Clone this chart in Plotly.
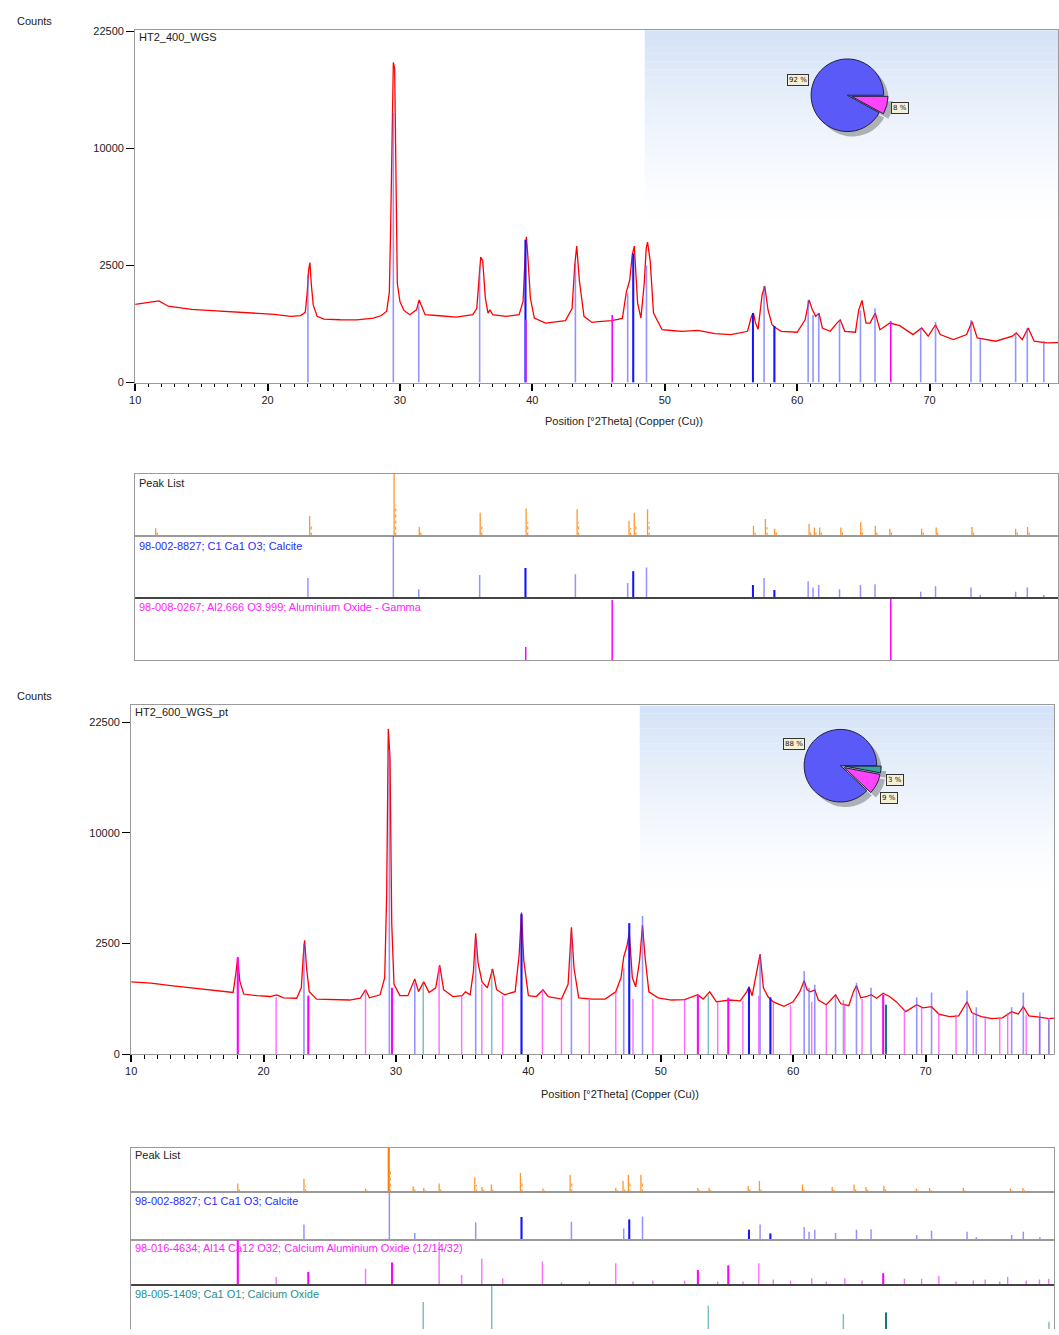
import numpy as np
import plotly.graph_objects as go

W, H = 1059, 1335
FONT = "Liberation Sans"


def fx(px):
    return px / W


def fy(py):
    return 1 - py / H


# ---------------- DATA ----------------
x_range = [10, 79.7]
ytick_counts = [0, 2500, 10000, 22500]

# Pattern 1: HT2_400_WGS
top_tt = [10.0, 11.0, 11.5, 11.8, 12.5, 13.5, 14.25, 15.5, 16.75, 18.0, 19.25, 20.5, 21.75, 22.5,
          22.85, 23.0, 23.1, 23.2, 23.3, 23.45, 23.75, 24.25, 25.5, 26.75, 28.0, 28.6, 29.0, 29.2,
          29.3, 29.4, 29.5, 29.6, 29.7, 29.8, 30.0, 30.3, 30.75, 31.25, 31.45, 31.6, 31.9, 33.0,
          34.25, 35.5, 35.8, 35.95, 36.1, 36.25, 36.45, 36.65, 36.8, 37.0, 38.0, 39.0, 39.3, 39.45,
          39.55, 39.65, 39.85, 40.15, 41.0, 42.5, 43.0, 43.2, 43.35, 43.55, 43.9, 44.5, 45.0, 46.0,
          46.8, 47.1, 47.35, 47.55, 47.7, 47.95, 48.2, 48.45, 48.6, 48.7, 48.9, 49.15, 49.8, 50.5,
          51.3, 52.5, 53.8, 55.0, 56.25, 56.55, 56.7, 56.85, 57.05, 57.35, 57.55, 57.8, 58.1, 58.4,
          58.8, 60.0, 60.6, 60.9, 61.15, 61.4, 61.65, 61.9, 62.5, 63.0, 63.25, 63.6, 64.4, 64.65,
          64.9, 65.2, 65.5, 65.9, 66.25, 67.0, 67.75, 68.75, 69.4, 69.9, 70.45, 70.8, 71.8, 72.8,
          73.2, 73.6, 75.0, 76.25, 76.55, 77.0, 77.45, 77.9, 78.8, 79.7]
top_counts = [1115, 1160, 1200, 1215, 1064, 1010, 980, 950, 920, 900, 880, 850, 800, 820,
              900, 1500, 2300, 2630, 1800, 1100, 800, 735, 720, 718, 758, 820, 930, 1500,
              4500, 13000, 18700, 18000, 6500, 1800, 1200, 950, 840, 965, 1245, 1100, 840, 815,
              780, 840, 1000, 1800, 2880, 2700, 1300, 880, 965, 840, 800, 840, 1200, 2880,
              3880, 3000, 1300, 758, 646, 700, 1000, 2500, 3400, 1900, 800, 660, 680, 700,
              750, 1500, 1900, 3000, 3400, 1150, 758, 1800, 3300, 3600, 2700, 880, 510, 495,
              480, 498, 437, 420, 480, 800, 880, 650, 520, 1400, 1700, 965, 610, 543,
              480, 462, 718, 1245, 965, 800, 880, 543, 480, 646, 718, 480, 462, 965,
              1230, 646, 646, 880, 510, 646, 590, 420, 543, 392, 610, 420, 337, 420,
              680, 364, 312, 392, 449, 337, 543, 312, 287, 290]

# Pattern 2: HT2_600_WGS_pt
bot_tt = [10.0, 11.5, 13.0, 15.0, 17.0, 17.7, 17.9, 18.05, 18.2, 18.5, 19.5, 20.5, 21.0, 21.5,
          22.5, 22.85, 23.0, 23.1, 23.25, 23.45, 24.0, 25.5, 26.5, 27.3, 27.7, 28.0, 28.8, 29.15,
          29.3, 29.42, 29.55, 29.68, 29.85, 30.3, 30.9, 31.42, 31.7, 32.1, 32.5, 33.0, 33.3, 33.6,
          34.3, 35.0, 35.25, 35.6, 35.85, 36.02, 36.2, 36.5, 36.9, 37.3, 37.6, 38.2, 39.0, 39.3,
          39.48, 39.65, 40.0, 40.6, 41.1, 41.5, 42.5, 43.0, 43.25, 43.45, 43.8, 44.8, 45.8, 46.6,
          47.0, 47.2, 47.45, 47.62, 47.85, 48.1, 48.4, 48.62, 48.8, 49.1, 49.8, 50.8, 51.8, 52.8,
          53.2, 53.7, 54.2, 55.2, 56.0, 56.5, 56.66, 56.9, 57.25, 57.5, 57.75, 58.1, 58.5, 59.3,
          60.0, 60.5, 60.83, 61.05, 61.3, 61.63, 61.9, 62.5, 63.2, 63.6, 64.2, 64.55, 64.78, 65.1,
          65.5, 65.88, 66.3, 66.8, 67.3, 67.8, 68.5, 69.33, 69.8, 70.45, 71.0, 71.8, 72.5, 73.13,
          73.5, 74.2, 75.0, 75.8, 76.5, 77.0, 77.38, 77.8, 78.6, 79.3, 79.7]
bot_counts = [1069, 1030, 960, 880, 800, 780, 1300, 1926, 1100, 740, 700, 680, 720, 650,
              640, 900, 2000, 2652, 1500, 800, 620, 600, 600, 640, 847, 650, 720, 1200,
              5300, 21580, 17810, 3500, 1000, 700, 700, 1158, 800, 1069, 780, 900, 1624, 850,
              680, 700, 796, 720, 1400, 2985, 1700, 1069, 900, 1483, 850, 722, 800, 2000,
              4101, 1800, 700, 680, 847, 675, 620, 1000, 3286, 1500, 650, 620, 620, 796,
              1200, 1926, 2400, 3034, 1200, 927, 1800, 3389, 2000, 796, 650, 600, 607, 722,
              620, 796, 560, 600, 580, 800, 927, 700, 1400, 2046, 900, 675, 560, 470,
              560, 800, 1100, 850, 796, 847, 600, 501, 722, 520, 480, 800, 960, 650,
              675, 722, 640, 760, 675, 560, 371, 501, 440, 462, 330, 290, 300, 563,
              350, 290, 260, 270, 371, 330, 462, 300, 280, 260, 265]

# Calcite 98-002-8827
calcite_pos = [23.05, 29.5, 31.42, 36.02, 39.48, 43.25, 47.2, 47.62, 48.62, 56.66, 57.5, 58.28,
               60.83, 61.2, 61.63, 63.2, 64.78, 65.88, 69.33, 70.45, 73.13, 73.83, 76.5, 77.38, 78.63]
calcite_rel = [32, 100, 14, 37, 48, 38, 24, 43, 49, 21, 32, 13, 27, 17, 21, 14, 21, 22, 10, 19,
               17, 5, 10, 17, 5]
calcite_double = [4, 7, 9, 11]
calcite_top_counts = [2100, 13300, 1064, 2460, 3720, 2585, 1454, 3035, 2500, 880, 1690, 583,
                      1240, 830, 880, 713, 957, 1010, 543, 668, 713, 364, 449, 543, 317]
calcite_bot_counts = [2500, 19000, 1043, 2700, 4004, 3000, 1500, 3500, 3900, 905, 1997, 659,
                      1414, 905, 987, 700, 1043, 905, 659, 777, 827, 451, 451, 777, 362]

# Aluminium oxide gamma 98-008-0267
alox_pos = [39.5, 46.03, 67.07]
alox_rel = [21, 97, 100]
alox_counts = [713, 830, 690]

# Calcium aluminium oxide 98-016-4634
may_pos = [18.05, 20.95, 23.38, 27.7, 29.7, 33.26, 34.96, 36.48, 38.06, 41.06, 42.5, 44.6, 46.6,
           47.9, 49.4, 51.8, 52.8, 54.3, 55.1, 56.2, 57.4, 58.5, 59.8, 61.4, 62.5, 63.9, 65.2,
           66.8, 68.4, 69.7, 71.0, 72.3, 73.6, 74.5, 75.6, 76.2, 77.6, 78.6, 79.3]
may_rel = [100, 18, 29, 36, 50, 95, 22, 58, 15, 52, 6, 8, 48, 8, 10, 10, 33, 8, 43, 8, 48, 12, 10,
           15, 8, 15, 10, 26, 14, 14, 20, 8, 10, 12, 8, 18, 10, 12, 14]
may_counts = [1900, 660, 700, 847, 900, 1600, 720, 1000, 700, 850, 620, 600, 800, 620, 620, 600,
              720, 560, 650, 580, 700, 560, 500, 560, 500, 520, 620, 720, 400, 440, 350, 320,
              350, 300, 270, 350, 320, 290, 270]
may_double = [0, 2, 4, 16, 18, 27]

# Calcium oxide 98-005-1409
cao_pos = [32.06, 37.23, 53.59, 63.79, 67.01, 79.32]
cao_rel = [63, 100, 55, 37, 40, 20]
cao_counts = [1069, 1483, 720, 600, 501, 240]
cao_double = [4]

# Peak lists
pk1_pos = [11.55, 23.18, 29.56, 31.46, 36.06, 39.53, 43.38, 47.3, 47.7, 48.7, 56.7, 57.6, 58.3,
           60.9, 61.3, 61.7, 63.3, 64.8, 65.9, 67.0, 69.4, 70.5, 73.2, 76.5, 77.4]
pk1_rel = [12, 32, 100, 14, 37, 44, 43, 24, 37, 43, 16, 27, 11, 19, 13, 13, 13, 22, 16, 11, 11,
           13, 14, 11, 14]
pk2_pos = [18.05, 23.05, 27.7, 29.45, 31.3, 32.1, 33.26, 35.95, 36.5, 37.2, 39.4, 41.1, 43.15,
           46.6, 47.15, 47.55, 48.5, 52.8, 53.65, 56.6, 57.45, 60.7, 62.95, 64.6, 65.5, 66.85,
           69.3, 70.3, 72.85, 76.4, 77.35]
pk2_rel = [20, 31, 9, 100, 14, 10, 20, 34, 12, 18, 44, 9, 40, 10, 26, 40, 40, 10, 10, 15, 26, 18,
           12, 18, 12, 15, 9, 10, 10, 9, 10]

pie1_labels = ["Calcite", "Aluminium Oxide - Gamma"]
pie1_values = [92, 8]
pie2_labels = ["Calcite", "Calcium Oxide", "Calcium Aluminium Oxide"]
pie2_values = [88, 3, 9]

titles = ["HT2_400_WGS", "HT2_600_WGS_pt"]
row_labels_1 = ["Peak List", "98-002-8827; C1 Ca1 O3; Calcite",
                "98-008-0267; Al2.666 O3.999; Aluminium Oxide - Gamma"]
row_labels_2 = ["Peak List", "98-002-8827; C1 Ca1 O3; Calcite",
                "98-016-4634; Al14 Ca12 O32; Calcium Aluminium Oxide (12/14/32)",
                "98-005-1409; Ca1 O1; Calcium Oxide"]
x_title = "Position [°2Theta] (Copper (Cu))"

# ---------------- STYLE ----------------
RED = "rgb(255,0,0)"
BLUE_L = "rgba(90,90,255,0.65)"
BLUE_D = "rgb(20,20,255)"
MAG_L = "rgba(255,60,255,0.75)"
MAG_D = "rgb(255,0,255)"
TEAL_L = "rgba(40,150,150,0.6)"
TEAL_D = "rgb(20,120,120)"
ORANGE = "rgb(255,150,50)"
ORANGE_D = "rgb(255,120,0)"
FRAME = "#9a9a9a"


def sticks(pos, vals, f=lambda v: v, idx=None):
    xs, ys = [], []
    for i, (p, v) in enumerate(zip(pos, vals)):
        if idx is not None and i not in idx:
            continue
        xs += [p, p, None]
        ys += [0, f(v), None]
    return xs, ys


def add_sticks(pos, vals, xa, ya, color, width, f=lambda v: v, idx=None, dash=None):
    xs, ys = sticks(pos, vals, f, idx)
    fig.add_trace(go.Scatter(x=xs, y=ys, mode="lines", xaxis=xa, yaxis=ya,
                             line=dict(color=color, width=width, dash=dash),
                             hoverinfo="skip", showlegend=False))


sq = np.sqrt
fig = go.Figure()

# ---- main plot 1 ----
fig.add_trace(go.Scatter(x=top_tt, y=sq(top_counts), mode="lines", xaxis="x", yaxis="y",
                         line=dict(color=RED, width=1.3), showlegend=False))
add_sticks(calcite_pos, calcite_top_counts, "x", "y", BLUE_L, 1.6, sq)
add_sticks(calcite_pos, calcite_top_counts, "x", "y", BLUE_D, 2, sq, idx=calcite_double)
add_sticks(alox_pos, alox_counts, "x", "y", MAG_D, 1.6, sq)

# ---- stick rows 1 ----
add_sticks(pk1_pos, pk1_rel, "x2", "y2", ORANGE, 1.3)
add_sticks([p + 0.12 for p in pk1_pos], [r * 0.5 for r in pk1_rel], "x2", "y2", ORANGE, 1.2, dash="dot")
add_sticks(calcite_pos, calcite_rel, "x3", "y3", BLUE_L, 1.5)
add_sticks(calcite_pos, calcite_rel, "x3", "y3", BLUE_D, 2, idx=calcite_double)
add_sticks(alox_pos, alox_rel, "x4", "y4", MAG_D, 1.5)

# ---- main plot 2 ----
fig.add_trace(go.Scatter(x=bot_tt, y=sq(bot_counts), mode="lines", xaxis="x5", yaxis="y5",
                         line=dict(color=RED, width=1.3), showlegend=False))
add_sticks(may_pos, may_counts, "x5", "y5", MAG_L, 1.4, sq)
add_sticks(may_pos, may_counts, "x5", "y5", MAG_D, 2, sq, idx=may_double)
add_sticks(calcite_pos, calcite_bot_counts, "x5", "y5", BLUE_L, 1.6, sq)
add_sticks(calcite_pos, calcite_bot_counts, "x5", "y5", BLUE_D, 2, sq, idx=calcite_double)
add_sticks(cao_pos, cao_counts, "x5", "y5", TEAL_L, 1.5, sq)
add_sticks(cao_pos, cao_counts, "x5", "y5", TEAL_D, 2, sq, idx=cao_double)

# ---- stick rows 2 ----
add_sticks(pk2_pos, pk2_rel, "x6", "y6", ORANGE, 1.3)
add_sticks(pk2_pos, pk2_rel, "x6", "y6", ORANGE_D, 2, idx=[3])
add_sticks([p + 0.12 for p in pk2_pos], [r * 0.5 for r in pk2_rel], "x6", "y6", ORANGE, 1.2, dash="dot")
add_sticks(calcite_pos, calcite_rel, "x7", "y7", BLUE_L, 1.5)
add_sticks(calcite_pos, calcite_rel, "x7", "y7", BLUE_D, 2, idx=calcite_double)
add_sticks(may_pos, may_rel, "x8", "y8", MAG_L, 1.4)
add_sticks(may_pos, may_rel, "x8", "y8", MAG_D, 2, idx=may_double)
add_sticks(cao_pos, cao_rel, "x9", "y9", TEAL_L, 1.5)
add_sticks(cao_pos, cao_rel, "x9", "y9", TEAL_D, 2, idx=cao_double)

# ---- pies ----
def add_pie(values, labels, colors, dom_px, pulls):
    x0, x1, y0, y1 = dom_px
    fig.add_trace(go.Pie(values=values, labels=labels, sort=False, direction="clockwise",
                         rotation=90, textinfo="none", hoverinfo="skip", showlegend=False,
                         marker=dict(colors=["rgba(120,120,120,0.55)"] * len(values),
                                     line=dict(width=0)),
                         pull=pulls,
                         domain=dict(x=[fx(x0 + 5), fx(x1 + 5)], y=[fy(y1 + 5), fy(y0 + 5)])))
    fig.add_trace(go.Pie(values=values, labels=labels, sort=False, direction="clockwise",
                         rotation=90, textinfo="none", hoverinfo="skip", showlegend=False,
                         marker=dict(colors=colors, line=dict(color="#202040", width=1)),
                         pull=pulls,
                         domain=dict(x=[fx(x0), fx(x1)], y=[fy(y1), fy(y0)])))


# slices ordered starting at 3 o'clock going clockwise: small slices first
add_pie(pie1_values[::-1], pie1_labels[::-1], ["#ff44ff", "#5a5af8"], (806, 888, 50, 132), [0.12, 0])
add_pie(pie2_values[1:] + pie2_values[:1], pie2_labels[1:] + pie2_labels[:1],
        ["#3aa39c", "#ff44ff", "#5a5af8"], (799, 881, 726, 808), [0.12, 0.12, 0])

# ---------------- LAYOUT ----------------
tickfont = dict(family=FONT, size=11, color="#222")


def main_x(dom, anchor):
    return dict(domain=dom, range=x_range, anchor=anchor, showline=True, linecolor=FRAME,
                mirror=True, ticks="outside", tickcolor="#000", ticklen=7, tickwidth=1.5,
                tick0=10, dtick=10, tickfont=tickfont, showgrid=False, zeroline=False,
                minor=dict(dtick=1, ticks="outside", ticklen=3.5, tickcolor="#000", tickwidth=1.3))


def main_y(dom, anchor, top):
    return dict(domain=dom, range=[0, top], anchor=anchor, tickvals=list(sq(ytick_counts)),
                ticktext=[str(v) for v in ytick_counts], ticks="outside", ticklen=8,
                tickcolor="#000", tickwidth=1, showline=True, linecolor=FRAME, mirror=True,
                showgrid=False, zeroline=False, tickfont=tickfont)


def row_x(dom, anchor, showline=True):
    return dict(domain=dom, range=x_range, anchor=anchor, showline=showline, linecolor=FRAME,
                mirror=True, ticks="", showticklabels=False, showgrid=False, zeroline=False)


def row_y(dom, anchor, rng=(0, 100)):
    return dict(domain=dom, range=list(rng), anchor=anchor, showline=True, linecolor=FRAME,
                mirror=True, ticks="", showticklabels=False, showgrid=False, zeroline=False)


xd1 = [fx(130), 1.0]
xd2 = [fx(126), fx(1055)]
layout = dict(
    width=W, height=H, margin=dict(l=0, r=0, t=0, b=0),
    paper_bgcolor="white", plot_bgcolor="rgba(0,0,0,0)",
    xaxis=main_x(xd1, "y"), yaxis=main_y([fy(380.7), fy(25)], "x", 150.7),
    xaxis2=row_x(xd1, "y2"), yaxis2=row_y([fy(535), fy(473)], "x2"),
    xaxis3=row_x(xd1, "y3"), yaxis3=row_y([fy(598), fy(535)], "x3"),
    xaxis4=row_x(xd1, "y4"), yaxis4=row_y([fy(660.5), fy(598)], "x4"),
    xaxis5=main_x(xd2, "y5"), yaxis5=main_y([fy(1058), fy(706)], "x5", 157.6),
    xaxis6=row_x(xd2, "y6"), yaxis6=row_y([fy(1197.3), fy(1152.5)], "x6"),
    xaxis7=row_x(xd2, "y7"), yaxis7=row_y([fy(1245), fy(1197.3)], "x7"),
    xaxis8=row_x(xd2, "y8"), yaxis8=row_y([fy(1290.7), fy(1245)], "x8"),
    xaxis9=row_x(xd2, "y9", showline=False), yaxis9=row_y([0, fy(1290.7)], "x9", (4.3, 100)),
)

shapes = []
# light blue gradient panels behind the pies
for (x0, x1, y0, y1) in [(643, 1059, 25.5, 215), (638, 1055, 706.5, 890)]:
    n = 24
    for i in range(n):
        a = 0.85 * (1 - i / n) ** 1.3
        shapes.append(dict(type="rect", xref="paper", yref="paper", layer="below",
                           x0=fx(x0), x1=fx(x1), y0=fy(y0 + (y1 - y0) * (i + 1) / n),
                           y1=fy(y0 + (y1 - y0) * i / n), line=dict(width=0),
                           fillcolor=f"rgba(205,222,246,{a:.3f})"))
# dark separators between rows
shapes.append(dict(type="line", xref="paper", yref="paper", x0=fx(130), x1=1.0, y0=fy(598), y1=fy(598),
                   line=dict(color="#444", width=2)))
shapes.append(dict(type="line", xref="paper", yref="paper", x0=fx(126), x1=fx(1055), y0=fy(1290.7),
                   y1=fy(1290.7), line=dict(color="#444", width=2)))
layout["shapes"] = shapes

ann = []
lab = dict(family=FONT, size=11, color="#222")


def text(x, y, s, font, xanchor="left", yanchor="middle", **kw):
    ann.append(dict(x=fx(x), y=fy(y), xref="paper", yref="paper", text=s, showarrow=False,
                    xanchor=xanchor, yanchor=yanchor, font=font, **kw))


text(9, 16, "Counts", lab)
text(9, 697, "Counts", lab)
text(132, 32, titles[0], lab)
text(128, 713, titles[1], lab)
text(622, 419, x_title, lab, xanchor="center")
text(618, 1098, x_title, lab, xanchor="center")

row_colors_1 = ["#222", "#2a2aff", "#ff22ff"]
for lbl, c, y in zip(row_labels_1, row_colors_1, [482, 545, 607]):
    text(132, y, lbl, dict(family=FONT, size=11, color=c))
row_colors_2 = ["#222", "#2a2aff", "#ff22ff", "#1f8f8f"]
for lbl, c, y in zip(row_labels_2, row_colors_2, [1160, 1206, 1253, 1300]):
    text(128, y, lbl, dict(family=FONT, size=11, color=c))

box = dict(bgcolor="#f4f0d6", bordercolor="#333", borderwidth=1, borderpad=1)
pf = dict(family="DejaVu Sans", size=7, color="#111")
text(797, 76, f"{pie1_values[0]} %", pf, xanchor="center", **box)
text(900, 104, f"{pie1_values[1]} %", pf, xanchor="center", **box)
text(793, 745, f"{pie2_values[0]} %", pf, xanchor="center", **box)
text(895, 781, f"{pie2_values[1]} %", pf, xanchor="center", **box)
text(889, 800, f"{pie2_values[2]} %", pf, xanchor="center", **box)
layout["annotations"] = ann

fig.update_layout(**layout)
fig.write_html("out.html")
